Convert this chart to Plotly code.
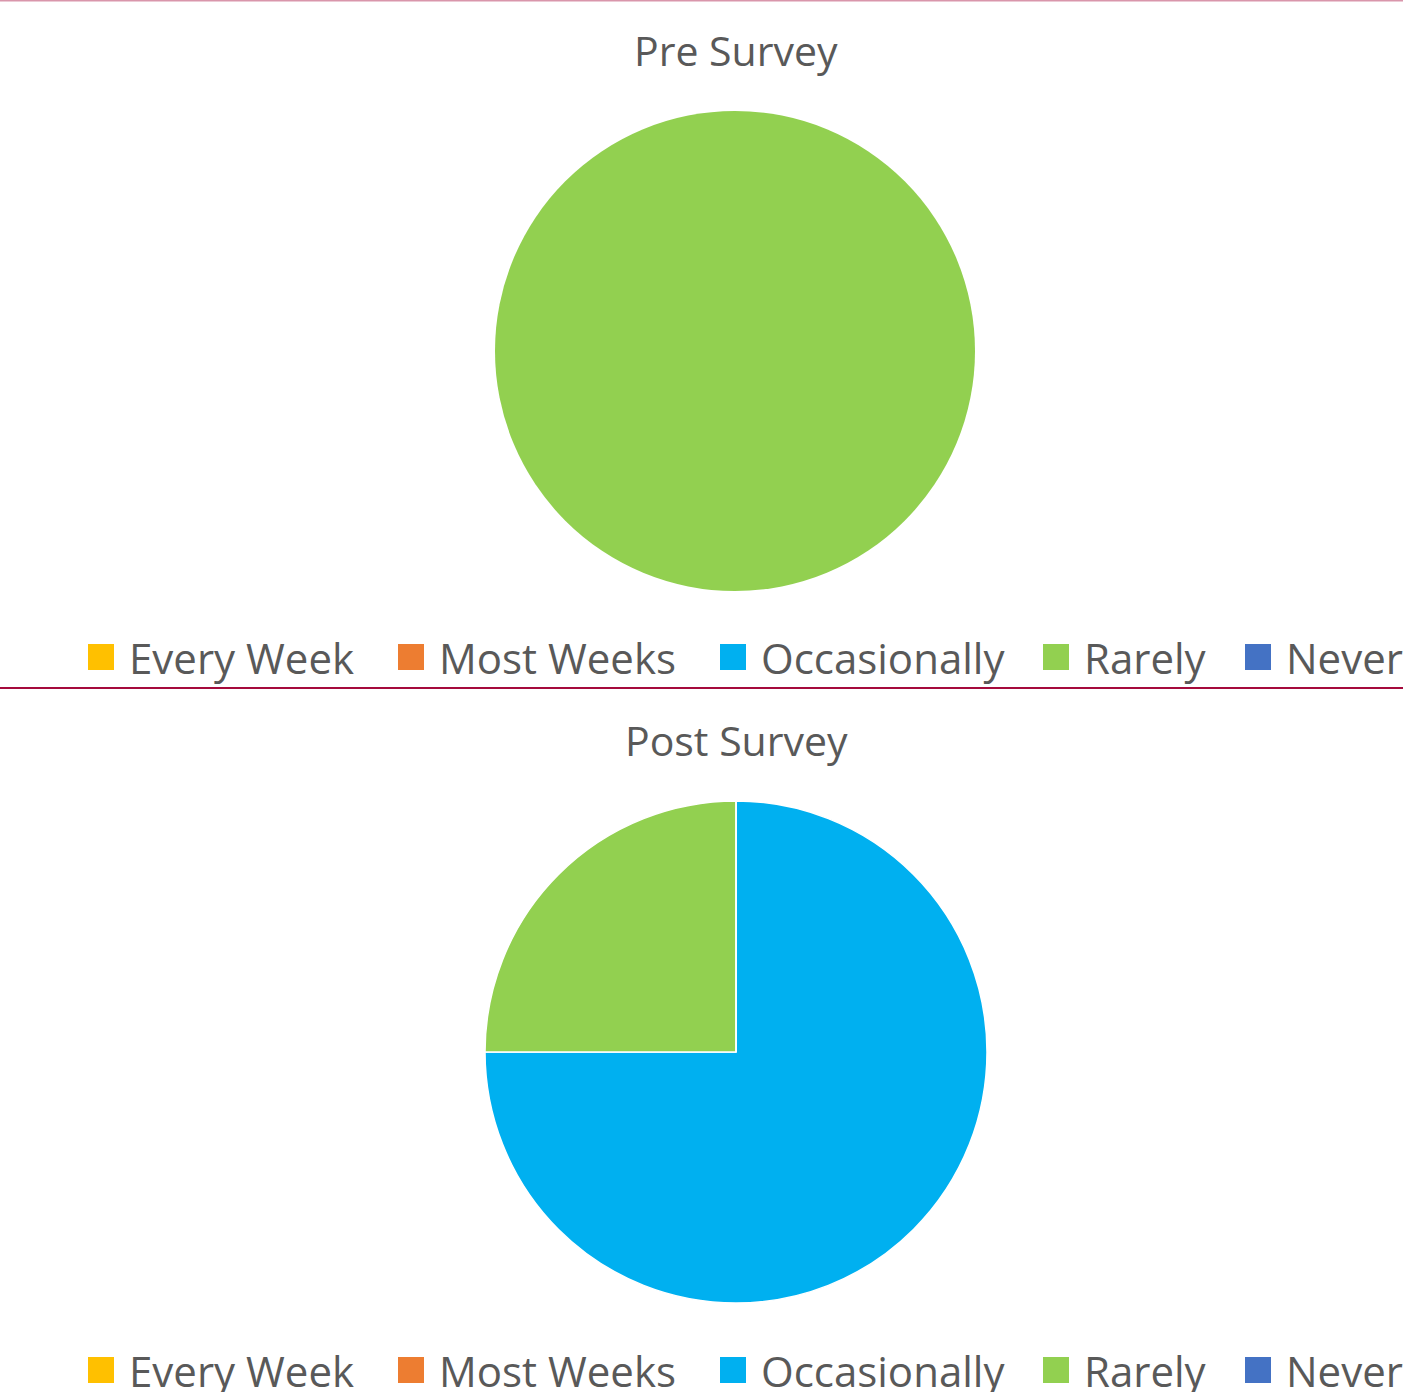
import plotly.graph_objects as go

categories = ["Every Week", "Most Weeks", "Occasionally", "Rarely", "Never"]
pre_values = [0, 0, 0, 100, 0]
post_values = [0, 0, 75, 25, 0]
colors = ["#FFC000", "#ED7D31", "#00B0F0", "#92D050", "#4472C4"]
titles = ["Pre Survey", "Post Survey"]

W, H = 1403, 1392
TXT = "#595959"
FONT = "Open Sans"

def px_x(x):
    return x / W

def px_y(y):
    return 1 - y / H

fig = go.Figure()

fig.add_trace(go.Pie(
    labels=categories, values=pre_values, sort=False, direction="clockwise",
    rotation=0, marker=dict(colors=colors, line=dict(color="white", width=0)),
    textinfo="none", hoverinfo="label+percent", showlegend=False,
    domain=dict(x=[px_x(495), px_x(975)], y=[px_y(591), px_y(111)]),
))
fig.add_trace(go.Pie(
    labels=categories, values=post_values, sort=False, direction="clockwise",
    rotation=0, marker=dict(colors=colors, line=dict(color="white", width=1.5)),
    textinfo="none", hoverinfo="label+percent", showlegend=False,
    domain=dict(x=[px_x(485), px_x(987)], y=[px_y(1303), px_y(801)]),
))

annotations = []
shapes = []

# titles
for t, ty in zip(titles, [50, 740]):
    annotations.append(dict(text=t, x=px_x(736), y=px_y(ty), xref="paper", yref="paper",
                            xanchor="center", yanchor="middle", showarrow=False,
                            font=dict(family=FONT, size=41, color=TXT)))

# legends (manual, large squares)
leg_x = [88, 398, 720, 1043, 1245]
for ly in [657, 1370]:
    for cat, col, lx in zip(categories, colors, leg_x):
        shapes.append(dict(type="rect", xref="paper", yref="paper",
                           x0=px_x(lx), x1=px_x(lx + 26),
                           y0=px_y(ly + 13), y1=px_y(ly - 13),
                           fillcolor=col, line=dict(width=0)))
        annotations.append(dict(text=cat, x=px_x(lx + 39), y=px_y(ly), xref="paper", yref="paper",
                                xanchor="left", yanchor="middle", showarrow=False,
                                font=dict(family=FONT, size=42, color=TXT)))

# frame lines
shapes.append(dict(type="line", xref="paper", yref="paper", x0=0, x1=1,
                   y0=px_y(0.5), y1=px_y(0.5), line=dict(color="#D996AB", width=2)))
shapes.append(dict(type="line", xref="paper", yref="paper", x0=0, x1=1,
                   y0=px_y(688), y1=px_y(688), line=dict(color="#A50A3C", width=2)))

fig.update_layout(
    width=W, height=H, margin=dict(l=0, r=0, t=0, b=0),
    paper_bgcolor="white", plot_bgcolor="white",
    annotations=annotations, shapes=shapes,
)

fig.write_html("out.html", config={"displayModeBar": False},
               post_script="document.body.style.margin='0px';document.body.style.overflow='hidden';")
